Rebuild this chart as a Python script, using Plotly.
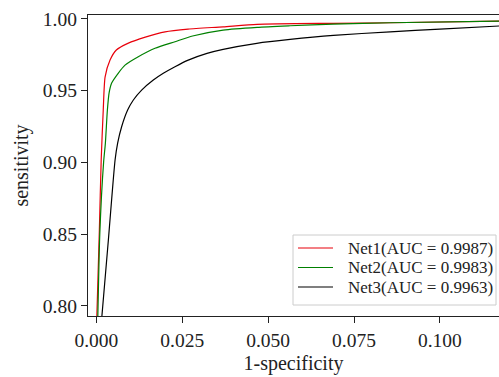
import plotly.graph_objects as go

# ROC data (1-specificity, sensitivity)
net1_fpr = [0.0001, 0.00087, 0.00140, 0.0020, 0.00253, 0.00398, 0.00581, 0.0093, 0.01424, 0.0200, 0.0267, 0.0369, 0.0468, 0.0689, 0.0855, 0.1200]
net1_tpr = [0.790, 0.8529, 0.9016, 0.9364, 0.9594, 0.9712, 0.9782, 0.9830, 0.9872, 0.9909, 0.9928, 0.9944, 0.9961, 0.9968, 0.9972, 0.9985]

net2_fpr = [0.0004, 0.0010, 0.0021, 0.00262, 0.0032, 0.00369, 0.00445, 0.0064, 0.00834, 0.0122, 0.01706, 0.0229, 0.0280, 0.0369, 0.0468, 0.0564, 0.0689, 0.0855, 0.1200]
net2_tpr = [0.790, 0.8508, 0.900, 0.9134, 0.9364, 0.9482, 0.9552, 0.9622, 0.9677, 0.9735, 0.9794, 0.9840, 0.9880, 0.9921, 0.9940, 0.9951, 0.9963, 0.9972, 0.9984]

net3_fpr = [0.0015, 0.00349, 0.00544, 0.00619, 0.00735, 0.0091, 0.01076, 0.01317, 0.01657, 0.01948, 0.02288, 0.02674, 0.0322, 0.0369, 0.0467, 0.0564, 0.0690, 0.0855, 0.1000, 0.1200]
net3_tpr = [0.790, 0.8459, 0.9016, 0.9134, 0.9248, 0.9364, 0.9434, 0.9503, 0.9573, 0.9620, 0.9666, 0.9712, 0.9759, 0.9787, 0.9829, 0.9856, 0.9884, 0.9909, 0.9928, 0.9953]

series_names = ["Net1(AUC = 0.9987)", "Net2(AUC = 0.9983)", "Net3(AUC = 0.9963)"]
series_colors = ["#e8000b", "#008000", "#000000"]

x_ticks = [0.0, 0.025, 0.05, 0.075, 0.1]
x_tick_labels = ["0.000", "0.025", "0.050", "0.075", "0.100"]
y_ticks = [0.80, 0.85, 0.90, 0.95, 1.00]
y_tick_labels = ["0.80", "0.85", "0.90", "0.95", "1.00"]

FONT = "Liberation Serif, Times New Roman, serif"

fig = go.Figure()
for xs, ys, name, col in zip([net1_fpr, net2_fpr, net3_fpr],
                             [net1_tpr, net2_tpr, net3_tpr],
                             series_names, series_colors):
    fig.add_trace(go.Scatter(x=xs, y=ys, mode="lines", name=name,
                             line=dict(color=col, width=1.2, shape="spline", smoothing=0.6),
                             showlegend=False))

fig.update_layout(
    width=499, height=377,
    margin=dict(l=88, r=0, t=15, b=61),
    paper_bgcolor="white", plot_bgcolor="white",
    font=dict(family=FONT, size=20, color="#222222"),
)
fig.update_xaxes(
    range=[-0.00244, 0.1172], tickvals=x_ticks, ticktext=x_tick_labels,
    showgrid=False, zeroline=False, showline=True, linecolor="#222222", linewidth=1.3,
    mirror=True, ticks="outside", ticklen=6, tickwidth=1.3, tickcolor="#222222",
    tickfont=dict(size=19.5, family=FONT, color="#222222"),
    title=dict(text="1-specificity", font=dict(size=20, family=FONT), standoff=6),
)
fig.update_yaxes(
    range=[0.7930, 1.0026], tickvals=y_ticks, ticktext=y_tick_labels,
    showgrid=False, zeroline=False, showline=True, linecolor="#222222", linewidth=1.3,
    ticks="outside", ticklen=6, tickwidth=1.3, tickcolor="#222222",
    tickfont=dict(size=19.5, family=FONT, color="#222222"),
    title=dict(text="sensitivity", font=dict(size=20, family=FONT), standoff=8),
)

# Legend box drawn in pixel-derived paper coordinates
L, R, T, B = 88, 499, 15, 316
W, H = R - L, B - T
def px(x):
    return (x - L) / W
def py(y):
    return (B - y) / H

fig.add_shape(type="rect", xref="paper", yref="paper",
              x0=px(293), x1=px(496), y0=py(305), y1=py(235),
              line=dict(color="#cccccc", width=1), fillcolor="rgba(255,255,255,0.85)", layer="above")
for i, (name, col) in enumerate(zip(series_names, series_colors)):
    yc = 248 + i * 19.5
    fig.add_shape(type="line", xref="paper", yref="paper",
                  x0=px(298), x1=px(333), y0=py(yc), y1=py(yc),
                  line=dict(color=col, width=1.2), layer="above")
    fig.add_annotation(xref="paper", yref="paper", x=px(346), y=py(yc),
                       text=name, showarrow=False, xanchor="left", yanchor="middle",
                       font=dict(size=17, family=FONT, color="#222222"))

fig.write_html("out.html",
               config={"displayModeBar": False},
               post_script="document.body.style.margin='0';document.body.style.overflow='hidden';")
